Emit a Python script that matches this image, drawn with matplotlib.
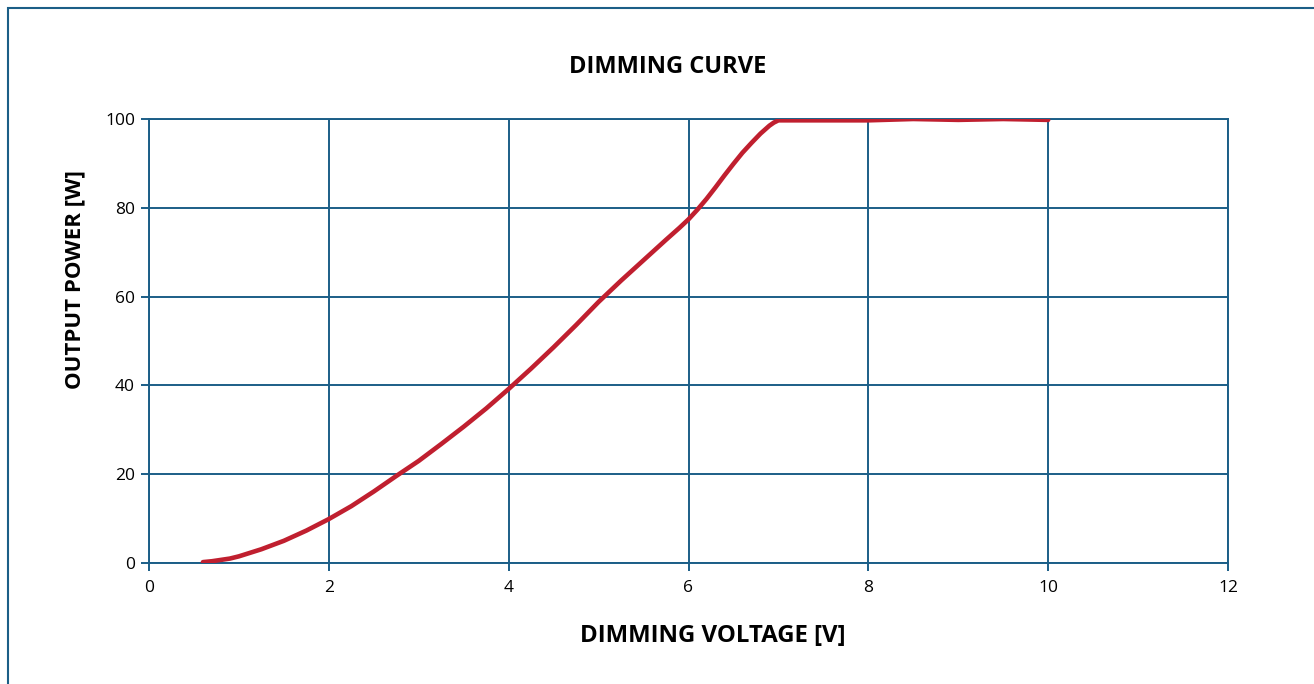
import matplotlib
matplotlib.use('Agg')
import matplotlib.pyplot as plt
from matplotlib.patches import Rectangle

# dimming voltage [V] vs output power [W]
voltage = [0.6, 0.7, 0.8, 0.9, 1.0, 1.25, 1.5, 1.75, 2.0, 2.25, 2.5, 2.75, 3.0,
           3.25, 3.5, 3.75, 4.0, 4.25, 4.5, 4.75, 5.0, 5.25, 5.5, 5.75, 5.9, 6.0,
           6.1, 6.2, 6.3, 6.4, 6.5, 6.6, 6.7, 6.8, 6.9, 6.95, 7.0, 7.5, 8.0, 8.5,
           9.0, 9.5, 10.0]
power = [0.2, 0.4, 0.7, 1.0, 1.5, 3.1, 5.0, 7.3, 9.9, 12.8, 16.1, 19.6, 23.0,
         26.8, 30.7, 34.8, 39.2, 43.8, 48.6, 53.6, 58.8, 63.6, 68.2, 72.8, 75.5, 77.4,
         79.6, 82.0, 84.6, 87.3, 89.9, 92.4, 94.6, 96.7, 98.5, 99.2, 99.7, 99.7, 99.7,
         100.0, 99.8, 100.0, 99.8]

xticks = [0, 2, 4, 6, 8, 10, 12]
yticks = [0, 20, 40, 60, 80, 100]

blue = '#1b5e87'
red = '#c01f2f'

plt.rcParams['font.family'] = ['Open Sans', 'DejaVu Sans']

fig = plt.figure(figsize=(13.14, 6.84), dpi=100)
ax = fig.add_axes([149 / 1314, 1 - 563 / 684, (1228 - 149) / 1314, (563 - 119) / 684])

ax.plot(voltage, power, color=red, linewidth=3.3, solid_capstyle='round',
        solid_joinstyle='round', zorder=3)

ax.set_xlim(0, 12)
ax.set_ylim(0, 100)
ax.set_xticks(xticks)
ax.set_yticks(yticks)
ax.grid(True, color=blue, linewidth=1.4)
for s in ax.spines.values():
    s.set_color(blue)
    s.set_linewidth(1.4)
ax.tick_params(axis='both', direction='out', length=6, width=1.4, color=blue,
               labelsize=12.5, pad=4)
ax.tick_params(axis='x', pad=6)

fig.text(668 / 1314, 1 - 67 / 684, 'DIMMING CURVE', ha='center', va='center',
         fontsize=17, fontweight='bold')
fig.text(713 / 1314, 1 - 636 / 684, 'DIMMING VOLTAGE [V]', ha='center', va='center',
         fontsize=17.3, fontweight='bold')
fig.text(75 / 1314, 1 - 280 / 684, 'OUTPUT POWER [W]', ha='center', va='center',
         fontsize=16, fontweight='bold', rotation=90)

# outer frame, cut off at the right and bottom like the source
fig.patches.append(Rectangle((7.5 / 1314, -0.1), 1.2, 1.1 - 7.5 / 684,
                             transform=fig.transFigure, fill=False,
                             edgecolor=blue, linewidth=1.5))

fig.savefig('out.png', dpi=100)
